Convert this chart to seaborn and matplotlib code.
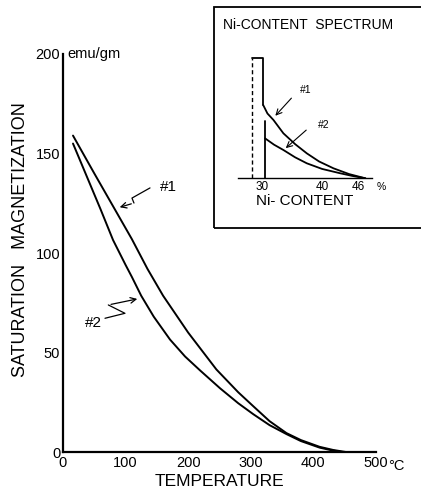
import pandas as pd
import matplotlib.pyplot as plt
import seaborn as sns
from matplotlib.patches import Rectangle

# main chart: saturation magnetization vs temperature
temp1 = [16, 50, 80, 110, 135, 160, 200, 245, 280, 304, 330, 357, 380, 410, 432, 452]
mag1 = [159, 140, 123.5, 107, 92, 78.5, 60, 41.5, 30, 23, 15.5, 9.5, 6, 2.6, 1, 0]
temp2 = [16, 40, 60, 80, 100, 110, 125, 145, 171, 195, 219, 251, 280, 304, 330, 357, 380, 410, 430, 446]
mag2 = [155, 137, 122, 106.5, 94, 88, 78.5, 68, 56.5, 48, 41, 32, 24.5, 19, 13.5, 9, 5.5, 2.2, 0.8, 0]
x_ticks = [0, 100, 200, 300, 400, 500]
y_ticks = [0, 50, 100, 150, 200]

# inset: Ni-content spectrum
ni1 = [30.2, 30.9, 31.9, 33.55, 35.5, 37.45, 39.5, 41.9, 44.5, 47.2]
spec1 = [61, 54, 48.6, 37.5, 28.5, 20.8, 14, 8.3, 3.5, 0]
ni2 = [30.5, 32, 33.55, 35.5, 37.45, 40, 43, 45, 47.2]
spec2 = [33.3, 28, 23.6, 17.5, 12.5, 7.8, 4.2, 2, 0]
ni_ticks = [30, 40, 46]

sns.set_style('white')
plt.rcParams['font.family'] = ['Liberation Sans', 'DejaVu Sans']
plt.rcParams['text.color'] = 'black'
plt.rcParams['axes.labelcolor'] = 'black'
plt.rcParams['xtick.color'] = 'black'
plt.rcParams['ytick.color'] = 'black'

fig = plt.figure(figsize=(4.21, 4.94), dpi=100)
ax = fig.add_axes([0.1496, 0.085, 0.7435, 0.8057])

main = pd.concat([
    pd.DataFrame({'T': temp1, 'M': mag1, 's': '#1'}),
    pd.DataFrame({'T': temp2, 'M': mag2, 's': '#2'}),
])
sns.lineplot(data=main, x='T', y='M', units='s', estimator=None,
             color='black', lw=1.4, ax=ax, legend=False)

ax.set_xlim(0, 500)
ax.set_ylim(0, 200)
ax.set_xticks(x_ticks)
ax.set_yticks(y_ticks)
ax.tick_params(axis='x', direction='in', length=2, pad=3, labelsize=10.5)
ax.tick_params(axis='y', length=0, pad=2, labelsize=10.5)
sns.despine(ax=ax)
for s in ['left', 'bottom']:
    ax.spines[s].set_color('black')
    ax.spines[s].set_linewidth(1.6)
ax.set_xlabel('TEMPERATURE', fontsize=12.5, labelpad=3)
ax.set_ylabel('')
fig.text(21 / 421, 1 - 240 / 494, 'SATURATION   MAGNETIZATION', fontsize=13,
         rotation=90, ha='center', va='center')
ax.text(7, 200, 'emu/gm', fontsize=10.5, va='center', ha='left')
ax.text(519, -3.5, '°C', fontsize=10.5, va='top', ha='left', clip_on=False)

# zigzag pointers
z1x, z1y = [139, 110.2, 113.4], [132.7, 127.6, 125.1]
ax.plot(z1x, z1y, color='black', lw=0.9)
ax.annotate('', xy=(86.3, 122.6), xytext=(113.4, 125.1),
            arrowprops=dict(arrowstyle='->', lw=0.9, color='black'))
ax.text(168, 133, '#1', fontsize=11, ha='center', va='center')
z2x, z2y = [67.1, 99, 72.4], [67.2, 69.7, 73.9]
ax.plot(z2x, z2y, color='black', lw=0.9)
ax.annotate('', xy=(123, 77.2), xytext=(72.4, 73.9),
            arrowprops=dict(arrowstyle='->', lw=0.9, color='black'))
ax.text(48, 65, '#2', fontsize=11, ha='center', va='center')

# inset frame
fig.patches.append(Rectangle((0.508, 0.5385), 0.6, 0.447, transform=fig.transFigure,
                             fill=False, edgecolor='black', lw=1.3))

axi = fig.add_axes([238 / 421, (494 - 178.3) / 494, 134 / 421, 138 / 494])
axi.set_facecolor('none')
ins = pd.concat([
    pd.DataFrame({'x': ni1, 'y': spec1, 's': '#1'}),
    pd.DataFrame({'x': ni2, 'y': spec2, 's': '#2'}),
])
sns.lineplot(data=ins, x='x', y='y', units='s', estimator=None,
             color='black', lw=1.3, ax=axi, legend=False)
# box of the spectrum below 30 %
axi.plot([28.3, 28.3], [0, 100], color='black', lw=1.0, ls=(0, (3, 2)))
axi.plot([28.3, 30.2, 30.2], [100, 100, 61], color='black', lw=1.3)
axi.plot([30.5, 30.5], [48, 0], color='black', lw=1.3)
axi.annotate('', xy=(31.9, 50.4), xytext=(35.2, 68.5),
             arrowprops=dict(arrowstyle='->', lw=0.8, color='black'))
axi.annotate('', xy=(33.6, 23.6), xytext=(37.7, 41.7),
             arrowprops=dict(arrowstyle='->', lw=0.8, color='black'))
axi.text(37.3, 73.6, '#1', fontsize=7.5, ha='center', va='center')
axi.text(40.3, 44.4, '#2', fontsize=7.5, ha='center', va='center')

axi.set_xlim(26, 48.3)
axi.set_ylim(0, 115)
axi.set_xticks(ni_ticks)
axi.set_yticks([])
axi.tick_params(axis='x', length=0, pad=2, labelsize=8.5)
sns.despine(ax=axi, left=True)
axi.spines['bottom'].set_color('black')
axi.spines['bottom'].set_linewidth(1.0)
axi.text(49, -3, '%', fontsize=7.5, va='top', ha='left', clip_on=False)
axi.set_xlabel('Ni- CONTENT', fontsize=11, labelpad=1)
axi.set_ylabel('')
fig.text(223 / 421, 1 - 25 / 494, 'Ni-CONTENT  SPECTRUM', fontsize=10, va='center', ha='left')

fig.savefig('out.png', dpi=100)
